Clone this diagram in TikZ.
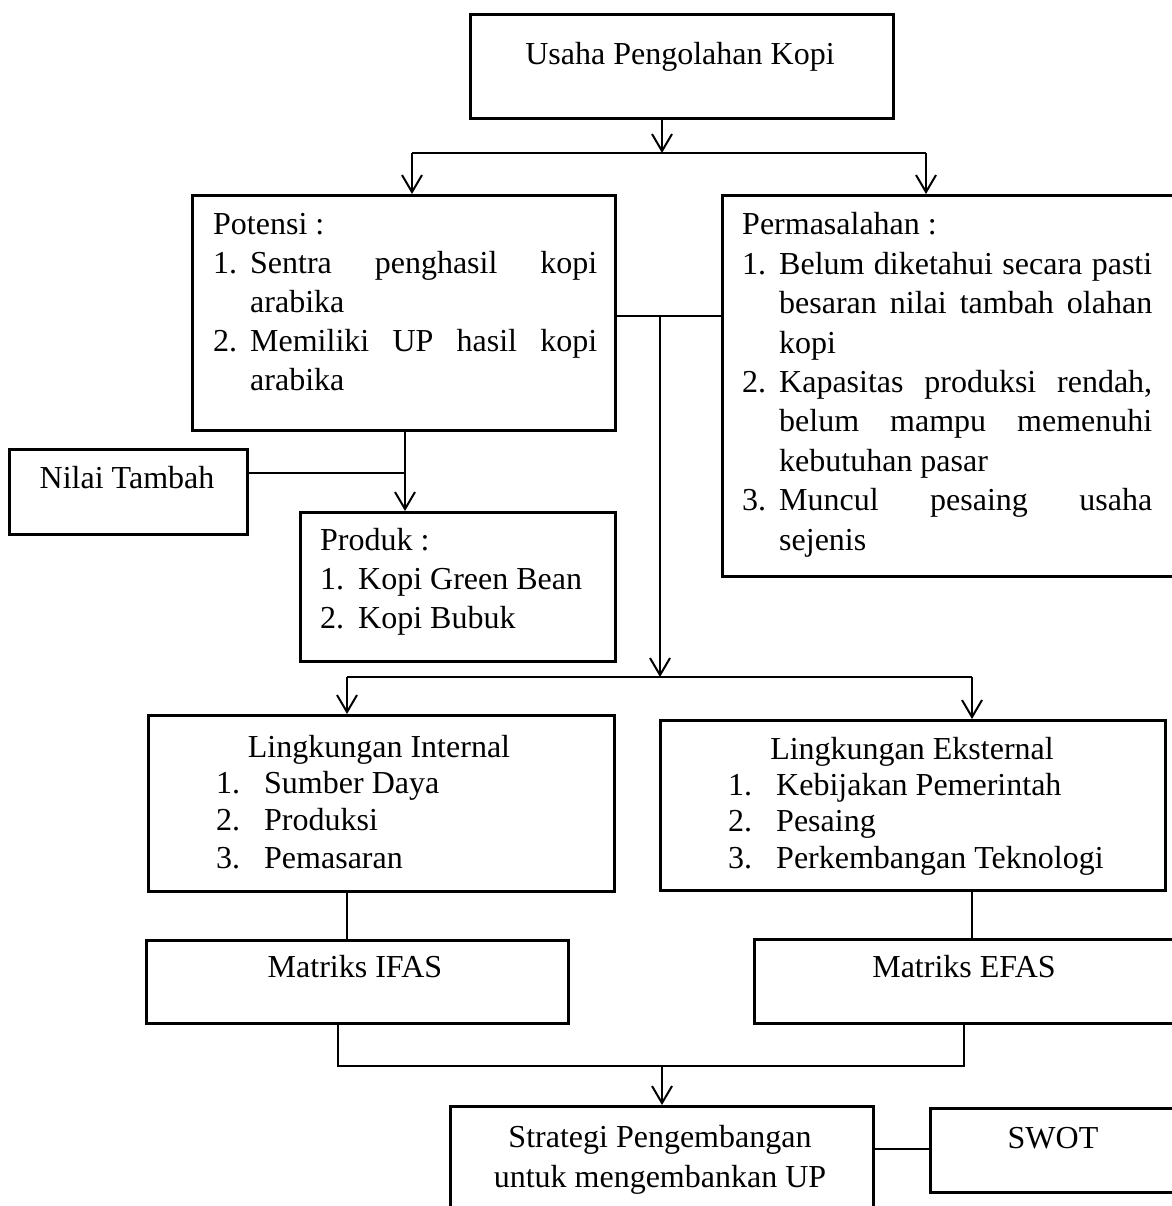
\documentclass[tikz,border=0pt]{standalone}
\usepackage{fontspec}
\setmainfont{Liberation Serif}
\usetikzlibrary{arrows.meta}
\tikzset{
  boxnode/.style={draw, line width=2.6pt, inner sep=0pt, anchor=north west},
  conn/.style={line width=2pt},
  arr/.style={line width=2pt, -{Straight Barb[length=17pt,width=20pt]}},
  txt/.style={inner sep=0pt, font=\fontsize{32}{39}\selectfont, align=left},
  txtc/.style={inner sep=0pt, font=\fontsize{32}{39}\selectfont, align=center},
}
\newcommand{\jl}[2]{\makebox[#1pt][s]{#2}}
\newcommand{\num}[2]{\makebox[#1pt][l]{#2}}
\begin{document}
\begin{tikzpicture}[x=1pt,y=-1pt]
\useasboundingbox (0,0) rectangle (1171,1206);
% boxes
\node[boxnode, minimum width=423pt, minimum height=104pt] (top) at (469,13) {};
\node[boxnode, minimum width=423pt, minimum height=235pt] (pot) at (191,194) {};
\node[boxnode, minimum width=480pt, minimum height=381pt] (perm) at (721,194) {};
\node[boxnode, minimum width=238pt, minimum height=85pt] (nilai) at (8,448) {};
\node[boxnode, minimum width=315pt, minimum height=149pt] (prod) at (299,511) {};
\node[boxnode, minimum width=466pt, minimum height=176pt] (int) at (147,714) {};
\node[boxnode, minimum width=505pt, minimum height=170pt] (ext) at (659,719) {};
\node[boxnode, minimum width=422pt, minimum height=83pt] (ifas) at (145,939) {};
\node[boxnode, minimum width=450pt, minimum height=84pt] (efas) at (753,938) {};
\node[boxnode, minimum width=423pt, minimum height=140pt] (strat) at (449,1105) {};
\node[boxnode, minimum width=280pt, minimum height=84pt] (swot) at (929,1107) {};
% texts (multi-line nodes: base = last line's baseline)
\node[txtc, anchor=base] (topT) at (680,65) {Usaha Pengolahan Kopi};
\node[txt, anchor=base west] (potT) at (213,390) {Potensi :\\
\num{37}{1.}\jl{347}{Sentra penghasil kopi}\\
\hspace*{37pt}arabika\\
\num{37}{2.}\jl{347}{Memiliki UP hasil kopi}\\
\hspace*{37pt}arabika};
\node[txt, anchor=base west, font=\fontsize{32}{39.4}\selectfont] (permT) at (742,550) {Permasalahan :\\
\num{37}{1.}\jl{373}{Belum diketahui secara pasti}\\
\hspace*{37pt}\jl{373}{besaran nilai tambah olahan}\\
\hspace*{37pt}kopi\\
\num{37}{2.}\jl{373}{Kapasitas produksi rendah,}\\
\hspace*{37pt}\jl{373}{belum mampu memenuhi}\\
\hspace*{37pt}kebutuhan pasar\\
\num{37}{3.}\jl{373}{Muncul pesaing usaha}\\
\hspace*{37pt}sejenis};
\node[txtc, anchor=base] (nilaiT) at (127,488) {Nilai Tambah};
\node[txt, anchor=base west] (prodT) at (320,628) {Produk :\\
\num{38}{1.}Kopi Green Bean\\
\num{38}{2.}Kopi Bubuk};
\node[txtc, anchor=base] (intH) at (379,757) {Lingkungan Internal};
\node[txt, anchor=base west, font=\fontsize{32}{37.5}\selectfont] (intT) at (216,868) {\num{48}{1.}Sumber Daya\\
\num{48}{2.}Produksi\\
\num{48}{3.}Pemasaran};
\node[txtc, anchor=base] (extH) at (912,759) {Lingkungan Eksternal};
\node[txt, anchor=base west, font=\fontsize{32}{36.5}\selectfont] (extT) at (728,868) {\num{48}{1.}Kebijakan Pemerintah\\
\num{48}{2.}Pesaing\\
\num{48}{3.}Perkembangan Teknologi};
\node[txtc, anchor=base] (ifasT) at (355,977) {Matriks IFAS};
\node[txtc, anchor=base] (efasT) at (964,977) {Matriks EFAS};
\node[txtc, anchor=base, font=\fontsize{32}{40}\selectfont] (stratT) at (660,1187) {Strategi Pengembangan\\untuk mengembankan UP};
\node[txtc, anchor=base] (swotT) at (1053,1148) {SWOT};
% connectors
\coordinate (a0) at (662,153);
\coordinate (aL) at (412,153);
\coordinate (aR) at (926,153);
\draw[arr] (top.south -| a0) -- (a0);
\draw[conn] (aL) -- (aR);
\draw[arr] (aL) -- (aL |- pot.north);
\draw[arr] (aR) -- (aR |- perm.north);
\coordinate (b0) at (660,316);
\draw[conn] (pot.east |- b0) -- (perm.west |- b0);
\coordinate (c0) at (660,677);
\coordinate (cL) at (347,677);
\coordinate (cR) at (972,677);
\draw[arr] (b0) -- (c0);
\draw[conn] (cL) -- (cR);
\draw[arr] (cL) -- (cL |- int.north);
\draw[arr] (cR) -- (cR |- ext.north);
\coordinate (d0) at (405,473);
\draw[arr] (pot.south -| d0) -- (prod.north -| d0);
\draw[conn] (nilai.east |- d0) -- (d0);
\draw[conn] (int.south -| cL) -- (ifas.north -| cL);
\draw[conn] (ext.south -| cR) -- (efas.north -| cR);
\coordinate (f0) at (662,1066);
\coordinate (fL) at (338,1066);
\coordinate (fR) at (964,1066);
\draw[conn] (ifas.south -| fL) -- (fL) -- (fR) -- (efas.south -| fR);
\draw[arr] (f0) -- (strat.north -| f0);
\coordinate (g0) at (900,1149);
\draw[conn] (strat.east |- g0) -- (swot.west |- g0);
\end{tikzpicture}
\end{document}
